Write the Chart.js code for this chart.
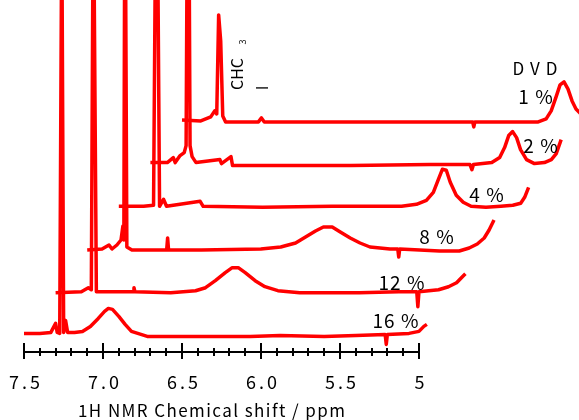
<!DOCTYPE html>
<html>
<head>
<meta charset="utf-8">
<script src="https://cdn.jsdelivr.net/npm/chart.js@4.4.1/dist/chart.umd.min.js"></script>
<style>
  html, body { margin: 0; padding: 0; background: #fff; }
  #wrap { width: 579px; height: 420px; position: relative; }
</style>
</head>
<body>
<div id="wrap"><canvas id="nmr"></canvas></div>
<script>
// samples, bottom to top
const samples = ['16 %', '12 %', '8 %', '4 %', '2 %', '1 %'];

// [ppm, intensity] (intensity relative to its own baseline)
const trace16 = [[7.50,1],[7.40,1],[7.330,2],[7.300,11],[7.290,2],[7.274,1],[7.261,420],[7.249,2],[7.237,14],[7.224,2],
  [7.180,2],[7.130,3],[7.080,8],[7.030,16],[6.990,23],[6.966,26],[6.940,25],[6.900,18],[6.860,10],[6.820,3],[6.780,1],
  [6.720,-2],[6.382,-2],[6.068,-2],[5.879,-1],[5.60,-2],[5.40,-1],[5.214,0],[5.207,-10],[5.200,0],[5.063,1],[5.0,3],
  [4.969,8],[4.95,10]];
const trace12 = [[7.50,-1],[7.337,0],[7.293,4],[7.274,2],[7.261,420],[7.242,0],[7.010,0],[7.004,4],[6.998,0],[6.771,-1],
  [6.614,1],[6.551,4],[6.489,11],[6.426,19],[6.382,24],[6.344,24],[6.300,19],[6.237,11],[6.175,5],[6.093,1],[5.955,-1],
  [5.578,-1],[5.327,0],[5.214,0],[5.207,-15],[5.200,0],[5.076,2],[5.013,5],[4.962,9],[4.925,15],[4.906,18]];
const trace8 = [[7.50,-1],[7.406,0],[7.362,4],[7.343,0],[7.312,4],[7.286,9],[7.274,23],[7.268,9],[7.261,420],[7.249,2],
  [7.217,-1],[6.997,-1],[6.991,11],[6.985,-1],[6.778,-1],[6.401,0],[6.275,2],[6.181,6],[6.118,12],[6.055,18],[6.005,22],
  [5.949,22],[5.898,17],[5.835,11],[5.773,6],[5.710,2],[5.584,0],[5.534,0],[5.528,-8],[5.522,0],[5.270,-2],[5.145,-2],
  [5.082,1],[5.031,5],[4.987,11],[4.956,19],[4.925,29]];
const trace4 = [[7.50,0],[7.343,0],[7.280,1],[7.261,420],[7.242,0],[7.217,7],[7.198,0],[6.985,5],[6.966,0],[6.589,-1],
  [6.150,0],[5.710,0],[5.616,2],[5.553,6],[5.509,14],[5.477,27],[5.452,37],[5.427,36],[5.402,24],[5.364,11],[5.320,4],
  [5.270,0],[5.176,-1],[5.082,0],[5.006,1],[4.956,3],[4.931,9],[4.906,19]];
const trace2 = [[7.50,1],[7.393,1],[7.355,6],[7.343,1],[7.312,8],[7.286,11],[7.274,18],[7.261,420],[7.249,18],[7.236,7],
  [7.211,1],[7.060,4],[7.050,0],[6.990,7],[6.980,-2],[6.734,-2],[6.231,-2],[5.729,-1],[5.477,-1],[5.465,-6],[5.455,-1],
  [5.339,1],[5.289,6],[5.258,16],[5.232,28],[5.207,32],[5.182,26],[5.157,14],[5.119,4],[5.069,0],[5.006,1],[4.962,4],
  [4.931,10],[4.900,24]];
const trace1 = [[7.50,1],[7.381,0],[7.318,4],[7.293,10],[7.280,7],[7.268,106],[7.255,80],[7.242,5],[7.224,-1],[7.016,-1],
  [6.997,3],[6.979,-1],[6.753,-1],[6.376,-1],[5.999,-1],[5.660,-1],[5.653,-6],[5.646,-1],[5.245,-1],[5.195,2],[5.163,10],
  [5.132,24],[5.107,36],[5.082,39],[5.057,32],[5.031,20],[5.006,12],[4.981,8],[4.93,10],[4.87,20]];

const tickValues = [7.5, 7.0, 6.5, 6.0, 5.5, 5.0];
const tickLabels = ['7.5', '7.0', '6.5', '6.0', '5.5', '5'];
const axisTitle = '1H NMR Chemical shift / ppm';

const traces = [trace16, trace12, trace8, trace4, trace2, trace1];

// stacked plot: each next sample is moved right by 0.2 ppm and up by 42.7
const shiftX = 0.2;
const shiftY = 42.7;
const firstBase = 85.6;

const datasets = traces.map((t, i) => ({
  label: samples[i],
  data: t.map(p => ({ x: p[0] - shiftX * i, y: p[1] + firstBase + shiftY * i })),
  borderColor: '#ff0000',
  borderWidth: 3.5,
  borderJoinStyle: 'round',
  pointRadius: 0,
  tension: 0,
  fill: false
}));

const FONT = '"Noto Sans CJK JP", "DejaVu Sans", sans-serif';

const axisPlugin = {
  id: 'ppmAxis',
  afterDraw(chart) {
    const ctx = chart.ctx;
    const x = chart.scales.x, y = chart.scales.y;
    const y0 = Math.round(y.getPixelForValue(68));
    ctx.save();
    ctx.strokeStyle = '#000';
    ctx.lineWidth = 2;
    ctx.beginPath();
    ctx.moveTo(x.getPixelForValue(7.5), y0);
    ctx.lineTo(x.getPixelForValue(5.0), y0);
    ctx.stroke();
    for (let k = 0; k <= 25; k++) {
      const px = Math.round(x.getPixelForValue(7.5 - k * 0.1));
      const major = k % 5 === 0;
      ctx.beginPath();
      ctx.moveTo(px, y0 - (major ? 9 : 4));
      ctx.lineTo(px, y0 + (major ? 7 : 4));
      ctx.stroke();
    }
    ctx.fillStyle = '#000';
    ctx.textBaseline = 'middle';
    ctx.textAlign = 'center';
    ctx.font = '18px ' + FONT;
    ctx.letterSpacing = '3px';
    tickValues.forEach((v, i) => {
      ctx.fillText(tickLabels[i], x.getPixelForValue(v) + 2, y0 + 30);
    });
    // axis title
    ctx.textAlign = 'left';
    ctx.font = '17px ' + FONT;
    ctx.letterSpacing = '0px';
    const w = ctx.measureText(axisTitle).width;
    ctx.letterSpacing = ((267 - w) / (axisTitle.length - 1)).toFixed(2) + 'px';
    ctx.fillText(axisTitle, 78, y0 + 59);

    // sample labels
    ctx.textAlign = 'center';
    ctx.font = '19px ' + FONT;
    ctx.letterSpacing = '1px';
    const labelPos = [[396, 321], [402, 283], [437, 237], [487, 195], [541, 146], [536, 97]];
    samples.forEach((s, i) => ctx.fillText(s, labelPos[i][0], labelPos[i][1]));

    ctx.font = '17px ' + FONT;
    ctx.letterSpacing = '6px';
    ctx.fillText('DVD', 538, 69);

    // CHCl3 marker, laid out rotated like the original
    ctx.letterSpacing = '0px';
    ctx.font = '16px ' + FONT;
    ctx.translate(237, 74);
    ctx.rotate(-Math.PI / 2);
    ctx.fillText('CHC', 0, 0);
    ctx.font = '15px "DejaVu Sans"';
    ctx.fillText('l', -14, 27);
    ctx.font = '9px ' + FONT;
    ctx.fillText('3', 32, 6);
    ctx.restore();
  }
};

new Chart(document.getElementById('nmr'), {
  type: 'line',
  data: { datasets },
  options: {
    responsive: true,
    maintainAspectRatio: false,
    animation: false,
    layout: { padding: 0 },
    plugins: { legend: { display: false }, tooltip: { enabled: false } },
    scales: {
      x: { type: 'linear', reverse: true, min: 3.987, max: 7.652, display: false },
      y: { min: 0, max: 420, display: false }
    }
  },
  plugins: [axisPlugin]
});
</script>
</body>
</html>
